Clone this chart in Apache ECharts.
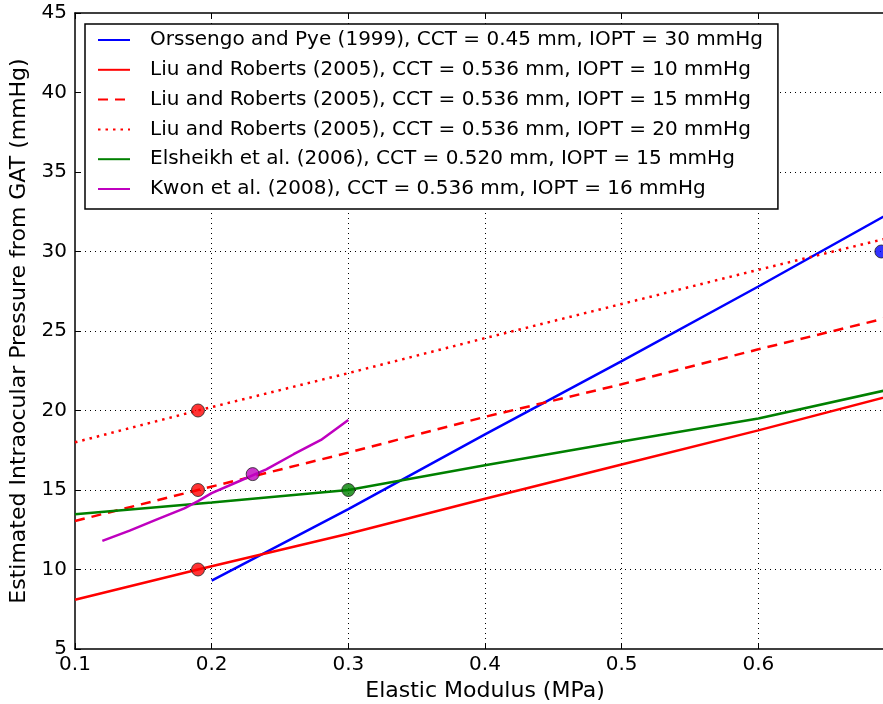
<!DOCTYPE html>
<html><head><meta charset="utf-8">
<script src="https://cdn.jsdelivr.net/npm/echarts@6/dist/echarts.min.js"></script>
<style>html,body{margin:0;padding:0;background:#fff}#c{width:883px;height:704px}</style>
</head><body><div id="c"></div>
<script>
var seriesNames = [
  "Orssengo and Pye (1999), CCT = 0.45 mm, IOPT = 30 mmHg",
  "Liu and Roberts (2005), CCT = 0.536 mm, IOPT = 10 mmHg",
  "Liu and Roberts (2005), CCT = 0.536 mm, IOPT = 15 mmHg",
  "Liu and Roberts (2005), CCT = 0.536 mm, IOPT = 20 mmHg",
  "Elsheikh et al. (2006), CCT = 0.520 mm, IOPT = 15 mmHg",
  "Kwon et al. (2008), CCT = 0.536 mm, IOPT = 16 mmHg"
];
var orssengoX = [0.2, 0.3, 0.4, 0.5, 0.6, 0.7];
var orssengoY = [9.3, 13.8, 18.5, 23.1, 27.8, 32.6];
var liuX = [0.1, 0.19, 0.3, 0.4, 0.5, 0.6, 0.7];
var liu10Y = [8.1, 10.0, 12.25, 14.45, 16.6, 18.75, 21.0];
var liu15Y = [13.05, 15.0, 17.35, 19.6, 21.65, 23.85, 25.95];
var liu20Y = [18.0, 20.0, 22.35, 24.55, 26.7, 28.85, 30.95];
var elsheikhX = [0.1, 0.2, 0.3, 0.4, 0.5, 0.6, 0.7];
var elsheikhY = [13.47, 14.22, 15.0, 16.55, 18.05, 19.5, 21.4];
var kwonX = [0.12, 0.14, 0.16, 0.18, 0.19, 0.2, 0.22, 0.24, 0.26, 0.28, 0.3];
var kwonY = [11.8, 12.45, 13.15, 13.85, 14.3, 14.8, 15.55, 16.3, 17.25, 18.15, 19.4];
var refPointsRedX = [0.19, 0.19, 0.19];
var refPointsRedY = [10, 15, 20];
var refPointBlue = [0.69, 30];
var refPointGreen = [0.3, 15];
var refPointMagenta = [0.23, 16];
var xTicks = [0.1, 0.2, 0.3, 0.4, 0.5, 0.6, 0.7];
var yTicks = [5, 10, 15, 20, 25, 30, 35, 40, 45];

function zip(a, b) { return a.map(function (v, i) { return [v, b[i]]; }); }
var FONT = "DejaVu Sans";
var chart = echarts.init(document.getElementById('c'), null, {renderer: 'canvas'});

function lineSeries(name, data, color, type) {
  return {
    name: name, type: 'line', data: data, symbol: 'none', showSymbol: false,
    lineStyle: {color: color, width: 2.5, type: type, cap: 'butt'},
    itemStyle: {color: color}, z: 3, animation: false
  };
}
function dotSeries(data, color) {
  return {
    type: 'scatter', data: data, symbol: 'circle', symbolSize: 13,
    itemStyle: {color: color, borderColor: '#222', borderWidth: 1}, z: 5, animation: false
  };
}
var axisCommon = {
  type: 'value', min: xTicks[0], max: xTicks[xTicks.length - 1], interval: 0.1
};
var option = {
  backgroundColor: '#fff',
  animation: false,
  grid: {left: 75, top: 13, width: 820, bottom: 55, show: false,
    containLabel: false, outerBoundsMode: 'none'},
  legend: {
    data: seriesNames, orient: 'vertical', left: 85, top: 24,
    padding: [6, 15, 10, 12], itemGap: 9.8, itemWidth: 32, itemHeight: 14,
    backgroundColor: '#fff', borderColor: '#000', borderWidth: 1.5,
    itemStyle: {opacity: 0},
    textStyle: {fontFamily: FONT, fontSize: 20, color: '#000', lineHeight: 20, padding: [0, 0, 0, 15]},
    selectedMode: false
  },
  xAxis: [
    Object.assign({}, axisCommon, {
      position: 'bottom',
      name: 'Elastic Modulus (MPa)', nameLocation: 'middle', nameGap: 30,
      nameTextStyle: {fontFamily: FONT, fontSize: 22, color: '#000'},
      axisLine: {show: true, lineStyle: {color: '#000', width: 1.5}},
      axisTick: {show: true, inside: true, length: 6, lineStyle: {color: '#000'}},
      axisLabel: {fontFamily: FONT, fontSize: 20, color: '#000', margin: 6, showMaxLabel: false,
        formatter: function (v) { return (+v).toFixed(1); }},
      splitLine: {show: true, showMinLine: false, showMaxLine: false,
        lineStyle: {color: '#000', type: [1, 4], width: 1}}
    }),
    Object.assign({}, axisCommon, {
      position: 'top',
      axisLine: {show: true, lineStyle: {color: '#000', width: 1.5}},
      axisTick: {show: true, inside: true, length: 6, lineStyle: {color: '#000'}},
      axisLabel: {show: false}, splitLine: {show: false}
    })
  ],
  yAxis: [
    {
      type: 'value', min: yTicks[0], max: yTicks[yTicks.length - 1], interval: 5,
      name: 'Estimated Intraocular Pressure from GAT (mmHg)', nameLocation: 'middle', nameGap: 44,
      nameTextStyle: {fontFamily: FONT, fontSize: 22, color: '#000'},
      axisLine: {show: true, lineStyle: {color: '#000', width: 1.5}},
      axisTick: {show: true, inside: true, length: 6, lineStyle: {color: '#000'}},
      axisLabel: {fontFamily: FONT, fontSize: 20, color: '#000', margin: 8},
      splitLine: {show: true, showMinLine: false, showMaxLine: false,
        lineStyle: {color: '#000', type: [1, 4], width: 1}}
    }
  ],
  series: [
    lineSeries(seriesNames[0], zip(orssengoX, orssengoY), '#0000ff', 'solid'),
    lineSeries(seriesNames[1], zip(liuX, liu10Y), '#ff0000', 'solid'),
    lineSeries(seriesNames[2], zip(liuX, liu15Y), '#ff0000', [10, 7]),
    lineSeries(seriesNames[3], zip(liuX, liu20Y), '#ff0000', [2.5, 5]),
    lineSeries(seriesNames[4], zip(elsheikhX, elsheikhY), '#008000', 'solid'),
    lineSeries(seriesNames[5], zip(kwonX, kwonY), '#bf00bf', 'solid'),
    dotSeries(zip(refPointsRedX, refPointsRedY), '#ff0000'),
    dotSeries([refPointBlue], '#0000ff'),
    dotSeries([refPointGreen], '#008000'),
    dotSeries([refPointMagenta], '#bf00bf')
  ]
};
chart.setOption(option);
</script></body></html>
